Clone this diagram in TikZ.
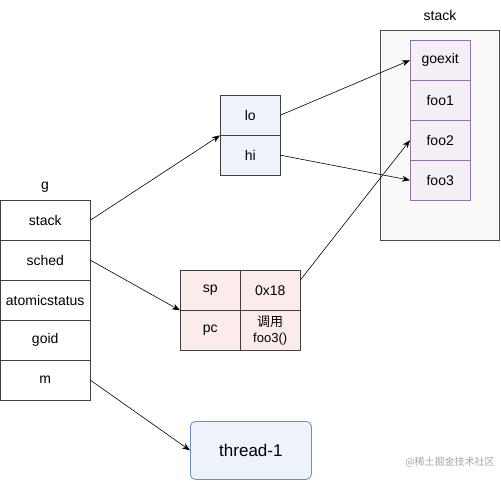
\documentclass[tikz,border=0pt]{standalone}
\usepackage{fontspec}
\setmainfont{Liberation Sans}
\newfontfamily\cjk{Noto Sans CJK SC}
\usetikzlibrary{arrows.meta}
\definecolor{bluefill}{HTML}{EEF3FB}
\definecolor{blueline}{HTML}{6C8EBF}
\definecolor{pinkfill}{HTML}{FBEBEB}
\definecolor{purpfill}{HTML}{F4EFF7}
\definecolor{purpline}{HTML}{9673A6}

\begin{document}
\begin{tikzpicture}[x=1pt, y=-1pt, font=\fontsize{14}{17}\selectfont,
  cell/.style={draw=black!75, minimum width=90pt, minimum height=40pt, inner sep=0pt, anchor=north west},
  half/.style={cell, minimum width=60pt},
  frame/.style={half, draw=purpline, fill=purpfill},
  arr/.style={-{Stealth[length=8pt, width=6pt]}, semithick}]
  \useasboundingbox (0,0) rectangle (501,481);
  % g
  \node at (45,187) {g};
  \node[cell] (gstack) at (0,200) {stack};
  \node[cell] (gsched) at (0,240) {sched};
  \node[cell] (gatomic) at (0,280) {atomicstatus};
  \node[cell] (ggoid) at (0,320) {goid};
  \node[cell] (gm) at (0,360) {m};
  % stack lo/hi
  \node[half, fill=bluefill] (lo) at (220,95) {lo};
  \node[half, fill=bluefill] (hi) at (220,135) {hi};
  % sched
  \node[half, fill=pinkfill] (sp) at (180,270) {sp};
  \node[half, fill=pinkfill] (spval) at (240,270) {0x18};
  \node[half, fill=pinkfill] (pc) at (180,310) {pc};
  \node[half, fill=pinkfill, align=center, font=\fontsize{13}{16}\selectfont] (pcval) at (240,310) {{\cjk 调用}\\foo3()};
  % stack
  \node at (440,15) {stack};
  \draw[black!70, fill=black!2] (380,30) rectangle (499,240);
  \node[frame] (goexit) at (410,40) {goexit};
  \node[frame] (foo1) at (410,80) {foo1};
  \node[frame] (foo2) at (410,120) {foo2};
  \node[frame] (foo3) at (410,160) {foo3};
  % thread
  \node[draw=blueline, fill=bluefill, thick, rounded corners=5pt, minimum width=121pt, minimum height=58pt, anchor=north west, font=\fontsize{17}{20}\selectfont] (thread) at (190,421) {thread-1};
  % arrows
  \draw[arr] (gstack.east) -- (lo.south west);
  \draw[arr] (lo.east) -- (goexit.west);
  \draw[arr] (hi.east) -- (foo3.west);
  \draw[arr] (gsched.east) -- (sp.south west);
  \draw[arr] (spval.north east) ++(0,10) -- (foo2.west);
  \draw[arr] (gm.east) -- (thread.west);
  \node[text=black!35, font=\cjk\fontsize{10}{12}\selectfont] (mark) at (450,462) {@稀土掘金技术社区};
\end{tikzpicture}
\end{document}
